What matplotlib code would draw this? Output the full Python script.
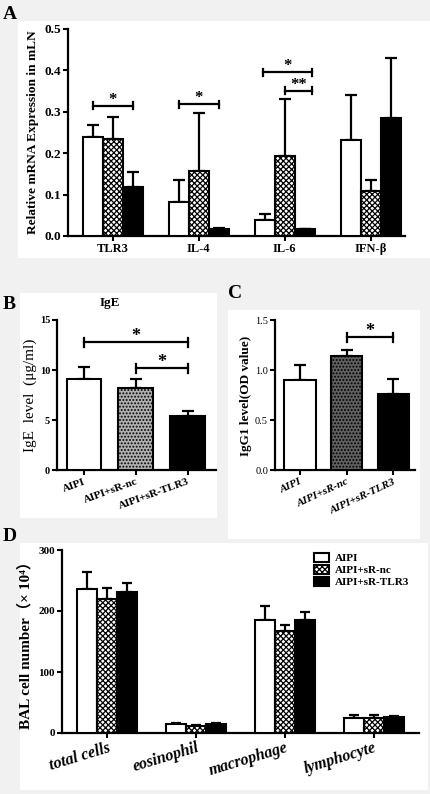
import numpy as np
import matplotlib.pyplot as plt
from matplotlib.patches import Rectangle, Patch

plt.rcParams['font.family'] = ['Liberation Serif', 'DejaVu Serif']
plt.rcParams['font.weight'] = 'bold'
plt.rcParams['axes.labelweight'] = 'bold'
plt.rcParams['mathtext.fontset'] = 'stix'
plt.rcParams['hatch.linewidth'] = 0.9

# ---- data ----
groups = ['AIPI', 'AIPI+sR-nc', 'AIPI+sR-TLR3']

# A: relative mRNA expression in mLN
genes = ['TLR3', 'IL-4', 'IL-6', 'IFN-β']
mrna_aipi = [0.238, 0.082, 0.039, 0.232]
mrna_aipi_err = [0.030, 0.053, 0.013, 0.109]
mrna_nc = [0.234, 0.157, 0.194, 0.109]
mrna_nc_err = [0.053, 0.139, 0.137, 0.026]
mrna_tlr3 = [0.119, 0.018, 0.016, 0.286]
mrna_tlr3_err = [0.035, 0.002, 0.002, 0.143]

# B: IgE level
ige = [9.1, 8.2, 5.45]
ige_err = [1.2, 0.9, 0.5]

# C: IgG1 level
igg1 = [0.905, 1.145, 0.76]
igg1_err = [0.15, 0.055, 0.155]

# D: BAL cells
cells = ['total cells', 'eosinophil', 'macrophage', 'lymphocyte']
bal_aipi = [236, 15, 186, 25]
bal_aipi_err = [28, 2, 23, 4]
bal_nc = [219, 11, 168, 25]
bal_nc_err = [18, 2, 9, 4]
bal_tlr3 = [231, 15, 186, 27]
bal_tlr3_err = [15, 2, 12, 1]

W, H = 430, 794
fig = plt.figure(figsize=(W / 100, H / 100), dpi=100, facecolor='#f1f1f1')


def box(x0, y0, x1, y1):
    fig.patches.append(Rectangle((x0 / W, 1 - y1 / H), (x1 - x0) / W, (y1 - y0) / H,
                                 transform=fig.transFigure, facecolor='white',
                                 edgecolor='none', zorder=-5))


def axes_px(x0, y0, x1, y1):
    ax = fig.add_axes([x0 / W, 1 - y1 / H, (x1 - x0) / W, (y1 - y0) / H])
    ax.patch.set_alpha(0)
    for s in ['top', 'right']:
        ax.spines[s].set_visible(False)
    for s in ['left', 'bottom']:
        ax.spines[s].set_linewidth(1.6)
    ax.tick_params(direction='out', length=3.5, width=1.5, pad=1.5)
    return ax


def bars(ax, x, vals, errs, width, face, hatch=None, cap=4):
    ax.bar(x, vals, width, color=face, edgecolor='black', linewidth=1.5,
           hatch=hatch, zorder=3)
    ax.errorbar(x, vals, yerr=[np.zeros(len(vals)), errs], fmt='none',
                ecolor='black', elinewidth=1.6, capsize=cap, capthick=1.6, zorder=2)


def bracket(ax, x1, x2, y, tick, star, fs=11):
    ax.plot([x1, x2], [y, y], color='black', lw=1.6)
    ax.plot([x1, x1], [y - tick, y + tick], color='black', lw=1.6)
    ax.plot([x2, x2], [y - tick, y + tick], color='black', lw=1.6)
    ax.text((x1 + x2) / 2, y - tick * 0.6, star, ha='center', va='bottom',
            fontsize=fs, fontweight='bold')


# panel backgrounds
box(18, 21, 430, 258)
box(20, 293, 217, 518)
box(228, 310, 420, 539)
box(20, 543, 428, 790)

fig.text(3 / W, 1 - 19 / H, 'A', fontsize=14, fontweight='bold')
fig.text(3 / W, 1 - 309 / H, 'B', fontsize=14, fontweight='bold')
fig.text(228 / W, 1 - 298 / H, 'C', fontsize=14, fontweight='bold')
fig.text(3 / W, 1 - 541 / H, 'D', fontsize=14, fontweight='bold')

# ---- A ----
axA = axes_px(68, 29, 405, 236)
xa = np.arange(len(genes))
bw = 0.233
bars(axA, xa - bw, mrna_aipi, mrna_aipi_err, bw, 'white', cap=4.5)
bars(axA, xa, mrna_nc, mrna_nc_err, bw, 'white', hatch='xxxxxx', cap=4.5)
bars(axA, xa + bw, mrna_tlr3, mrna_tlr3_err, bw, 'black', cap=4.5)
axA.set_xlim(-0.52, 3.40)
axA.set_ylim(0, 0.5)
axA.set_yticks([0, 0.1, 0.2, 0.3, 0.4, 0.5])
axA.set_yticklabels(['0.0', '0.1', '0.2', '0.3', '0.4', '0.5'], fontsize=9.5)
axA.set_xticks(xa)
axA.set_xticklabels(genes, fontsize=9)
axA.set_ylabel('Relative mRNA Expression in mLN', fontsize=9.6, labelpad=4)
bracket(axA, 0 - bw, 0 + bw, 0.315, 0.008, '*', fs=12)
bracket(axA, 1 - bw, 1 + bw, 0.318, 0.008, '*', fs=12)
bracket(axA, 2 - bw - 0.02, 2 + bw + 0.09, 0.395, 0.008, '*', fs=12)
bracket(axA, 2, 2 + bw + 0.09, 0.351, 0.008, '**', fs=12)

# ---- B ----
axB = axes_px(57, 320, 216, 470.5)
xb = np.arange(3)
bars(axB, xb, ige, ige_err, 0.67, ['white', '#b0b0b0', 'black'], cap=4)
axB.patches[1].set_hatch('.....')
axB.set_xlim(-0.52, 2.55)
axB.set_ylim(0, 15)
axB.set_yticks([0, 5, 10, 15])
axB.set_yticklabels(['0', '5', '10', '15'], fontsize=7.5)
axB.set_xticks(xb)
axB.set_xticklabels(groups, fontsize=8, rotation=20, ha='right', rotation_mode='anchor')
axB.set_ylabel('IgE  level  (μg/ml)', fontsize=11, fontweight='normal', labelpad=2)
bracket(axB, 0, 2, 12.8, 0.45, '*', fs=13)
bracket(axB, 1, 2, 10.2, 0.45, '*', fs=13)
fig.text(110 / W, 1 - 303 / H, 'IgE', fontsize=9.5, fontweight='bold',
         ha='center', va='center')

# ---- C ----
axC = axes_px(275, 320.5, 415, 470.5)
xc = np.arange(3)
bars(axC, xc, igg1, igg1_err, 0.67, ['white', '#606060', 'black'], cap=4)
axC.patches[1].set_hatch('.....')
axC.set_xlim(-0.53, 2.46)
axC.set_ylim(0, 1.5)
axC.set_yticks([0, 0.5, 1.0, 1.5])
axC.set_yticklabels(['0.0', '0.5', '1.0', '1.5'], fontsize=7.5, fontweight='normal')
axC.set_xticks(xc)
axC.set_xticklabels(groups, fontsize=8, style='italic', rotation=25, ha='right',
                    rotation_mode='anchor')
axC.set_ylabel('IgG1 level(OD value)', fontsize=9.5, labelpad=2)
bracket(axC, 1, 2, 1.33, 0.045, '*', fs=13)

# ---- D ----
axD = axes_px(62, 550, 419, 733)
xd = np.arange(len(cells))
dw = 0.225
bars(axD, xd - dw, bal_aipi, bal_aipi_err, dw, 'white', cap=3.5)
bars(axD, xd, bal_nc, bal_nc_err, dw, 'white', hatch='xxxxxx', cap=3.5)
bars(axD, xd + dw, bal_tlr3, bal_tlr3_err, dw, 'black', cap=3.5)
axD.set_xlim(-0.51, 3.51)
axD.set_ylim(0, 300)
axD.set_yticks([0, 100, 200, 300])
axD.set_yticklabels(['0', '100', '200', '300'], fontsize=8)
axD.set_xticks(xd)
axD.set_xticklabels(cells, fontsize=11.5, style='italic', rotation=17, ha='right',
                    rotation_mode='anchor')
axD.set_ylabel('BAL cell number（× 10⁴）', fontsize=11, labelpad=4,
               family=['Liberation Serif', 'Noto Sans CJK SC'])
handles = [Patch(facecolor='white', edgecolor='black', linewidth=1.5),
           Patch(facecolor='white', edgecolor='black', linewidth=1.5, hatch='xxxxxx'),
           Patch(facecolor='black', edgecolor='black', linewidth=1.5)]
axD.legend(handles, groups, loc='upper right', bbox_to_anchor=(1.0, 1.04),
           frameon=False, fontsize=8, handlelength=1.4, handleheight=0.9,
           handletextpad=0.5, labelspacing=0.15)

fig.savefig('out.png', dpi=100, facecolor=fig.get_facecolor())
